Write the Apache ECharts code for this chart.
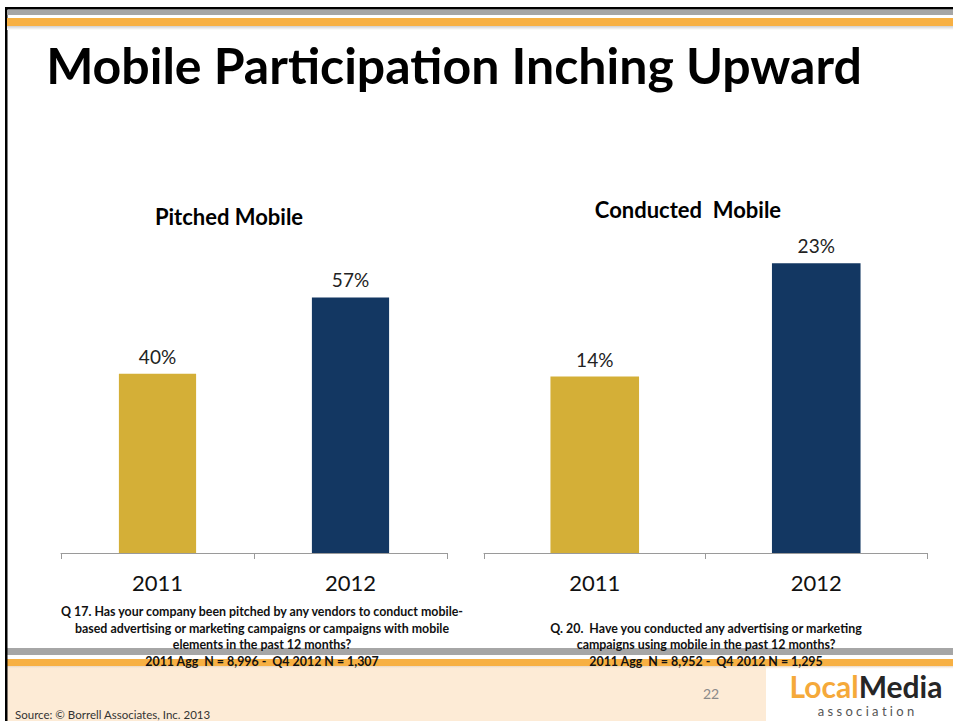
<!DOCTYPE html>
<html>
<head>
<meta charset="utf-8">
<script src="https://cdn.jsdelivr.net/npm/echarts@6/dist/echarts.min.js"></script>
<style>
html,body{margin:0;padding:0;background:#fff;}
#chart{width:953px;height:721px;}
</style>
</head>
<body>
<div id="chart"></div>
<script>
// ---- data ----
const categories = ['2011', '2012'];
const pitchedValues = [40, 57];
const conductedValues = [14, 23];
const barColors = ['#D4AF37', '#133762'];

const mainTitle = 'Mobile Participation Inching Upward';
const leftTitle = 'Pitched Mobile';
const rightTitle = 'Conducted  Mobile';
const leftQuestion = [
  'Q 17. Has your company been pitched by any vendors to conduct mobile-',
  'based advertising or marketing campaigns or campaigns with mobile',
  'elements in the past 12 months?',
  '2011 Agg  N = 8,996 -  Q4 2012 N = 1,307'
];
const rightQuestion = [
  'Q. 20.  Have you conducted any advertising or marketing',
  'campaigns using mobile in the past 12 months?',
  '2011 Agg  N = 8,952 -  Q4 2012 N = 1,295'
];
const sourceText = 'Source: \u00A9 Borrell Associates, Inc. 2013';
const pageNumber = '22';

// ---- chart ----
const FONT = 'Lato, "Open Sans", sans-serif';
const chart = echarts.init(document.getElementById('chart'), null, {renderer: 'svg'});

function barSeries(values, idx) {
  return {
    type: 'bar',
    xAxisIndex: idx, yAxisIndex: idx,
    barWidth: '40%',
    data: values.map((v, i) => ({value: v, itemStyle: {color: barColors[i]}})),
    label: {
      show: true, position: 'top', distance: 8,
      formatter: '{c}%', fontFamily: FONT, fontSize: 19, color: '#222'
    },
    silent: true
  };
}

function xAxis(gi) {
  return {
    type: 'category', gridIndex: gi, data: categories,
    axisLine: {lineStyle: {color: '#9a9a9a', width: 1}},
    axisTick: {show: true, length: 6, lineStyle: {color: '#9a9a9a'}},
    axisLabel: {fontFamily: FONT, fontSize: 22, color: '#111', margin: 18}
  };
}
function yAxis(gi, max) {
  return {type: 'value', gridIndex: gi, min: 0, max: max, show: false, splitLine: {show: false}};
}

const graphics = [];
// frame
graphics.push({type: 'rect', shape: {x: 5, y: 7, width: 948, height: 2.5}, style: {fill: '#000'}, z: 10});
graphics.push({type: 'rect', shape: {x: 5, y: 7, width: 2.5, height: 714}, style: {fill: '#000'}, z: 10});
graphics.push({type: 'rect', shape: {x: 7, y: 10, width: 946, height: 5}, style: {fill: '#a6a6a6'}, z: 10});
graphics.push({type: 'rect', shape: {x: 7, y: 18, width: 946, height: 8}, style: {fill: '#F7B043'}, z: 10});
graphics.push({type: 'rect', shape: {x: 7, y: 26, width: 946, height: 4},
  style: {fill: new echarts.graphic.LinearGradient(0, 0, 0, 1, [{offset: 0, color: '#cfcfcf'}, {offset: 1, color: '#ffffff'}])}, z: 10});
// bottom
graphics.push({type: 'rect', shape: {x: 7, y: 666, width: 759, height: 55}, style: {fill: '#FDEBD6'}, z: 1});
graphics.push({type: 'rect', shape: {x: 7, y: 648, width: 946, height: 7}, style: {fill: '#a6a6a6'}, z: 2});
graphics.push({type: 'rect', shape: {x: 7, y: 659, width: 946, height: 7}, style: {fill: '#F7B043'}, z: 2});
graphics.push({type: 'rect', shape: {x: 7, y: 666, width: 946, height: 3},
  style: {fill: new echarts.graphic.LinearGradient(0, 0, 0, 1, [{offset: 0, color: '#e6d6c4'}, {offset: 1, color: 'rgba(253,235,214,0)'}])}, z: 2});

function txt(text, x, y, size, opts) {
  opts = opts || {};
  graphics.push({
    type: 'text', z: 20,
    style: {
      text: text, x: x, y: y,
      font: (opts.weight || 'normal') + ' ' + size + 'px ' + (opts.family || FONT),
      fill: opts.color || '#000',
      textAlign: opts.align || 'center', textVerticalAlign: 'middle'
    }
  });
}
txt(mainTitle, 454, 65, 50, {weight: 'bold'});
txt(leftTitle, 229, 216, 22, {weight: 'bold'});
txt(rightTitle, 688, 209, 22, {weight: 'bold'});
const qy = [611, 628, 644, 661];
leftQuestion.forEach((l, i) => txt(l, 262, qy[i], 12.4, {weight: 'bold', color: '#111'}));
rightQuestion.forEach((l, i) => txt(l, 706, qy[i + 1], 12.4, {weight: 'bold', color: '#111'}));
txt(sourceText, 15, 714, 11.5, {align: 'left', color: '#333'});
txt(pageNumber, 711, 693, 14, {color: '#8a8a8a'});
// logo
graphics.push({
  type: 'text', z: 20,
  style: {
    text: '{a|Local}{b|Media}', x: 866, y: 686, textAlign: 'center', textVerticalAlign: 'middle',
    rich: {
      a: {font: 'bold 30px ' + FONT, fill: '#F5A93A', color: '#F5A93A'},
      b: {font: 'bold 30px ' + FONT, fill: '#262626', color: '#262626'}
    }
  }
});
txt('a s s o c i a t i o n', 866, 711, 13, {color: '#555'});

chart.setOption({
  animation: false,
  backgroundColor: '#fff',
  grid: [
    {left: 61, right: 506, top: 284, bottom: 168},
    {left: 484, right: 26, top: 238, bottom: 168}
  ],
  xAxis: [xAxis(0), xAxis(1)],
  yAxis: [yAxis(0, 60), yAxis(1, 25)],
  series: [barSeries(pitchedValues, 0), barSeries(conductedValues, 1)],
  graphic: {elements: graphics}
});
</script>
</body>
</html>
